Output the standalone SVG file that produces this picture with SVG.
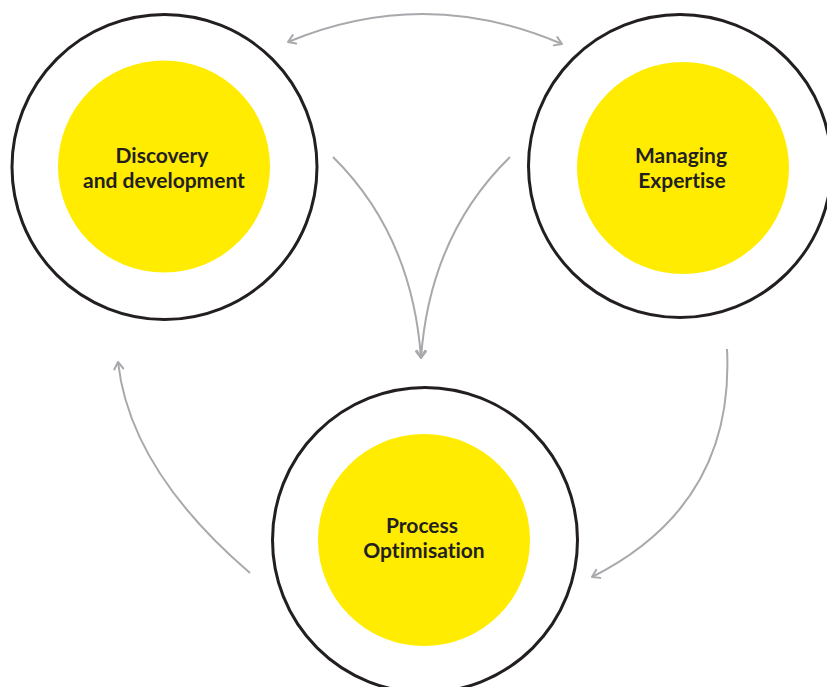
<svg xmlns="http://www.w3.org/2000/svg" width="827" height="687" viewBox="0 0 827 687">
<defs>
<marker id="ah" viewBox="0 0 12 12" refX="10" refY="6" markerWidth="12" markerHeight="12" markerUnits="userSpaceOnUse" orient="auto-start-reverse">
<path d="M3,1.5 L10,6 L3,10.5" fill="none" stroke="#a7a9ac" stroke-width="2" stroke-linecap="round" stroke-linejoin="round"/>
</marker>
</defs>
<style>
.outer{fill:#fff;stroke:#231f20;stroke-width:3}
.inner{fill:#ffec00}
.lbl{font-family:"Lato","Noto Sans",sans-serif;font-weight:bold;font-size:21px;fill:#231f20;text-anchor:middle;font-variant-ligatures:none}
.con{fill:none;stroke:#a7a9ac;stroke-width:2}
</style>
<rect width="827" height="687" fill="#fff"/>
<g id="connectors">
<path class="con" d="M288,42 Q425,-15 562,44" marker-start="url(#ah)" marker-end="url(#ah)"/>
<path class="con" d="M333,157 Q412,235 421,358" marker-end="url(#ah)"/>
<path class="con" d="M510,157 Q430,235 421,358" marker-end="url(#ah)"/>
<path class="con" d="M250,573 Q130,470 118,362" marker-end="url(#ah)"/>
<path class="con" d="M727,349 Q735,505 592,577" marker-end="url(#ah)"/>
</g>
<g id="discovery">
<circle class="outer" cx="164.5" cy="167" r="152.5"/>
<circle class="inner" cx="164" cy="166.5" r="106"/>
<text class="lbl" x="162" y="163">Discovery</text>
<text class="lbl" x="164" y="188">and development</text>
</g>
<g id="managing">
<circle class="outer" cx="680" cy="166" r="151.5"/>
<circle class="inner" cx="683" cy="168" r="106"/>
<text class="lbl" x="681" y="163">Managing</text>
<text class="lbl" x="682" y="188">Expertise</text>
</g>
<g id="process">
<circle class="outer" cx="425" cy="540" r="152.5"/>
<circle class="inner" cx="424" cy="540" r="106"/>
<text class="lbl" x="422" y="533">Process</text>
<text class="lbl" x="424" y="558">Optimisation</text>
</g>
</svg>
